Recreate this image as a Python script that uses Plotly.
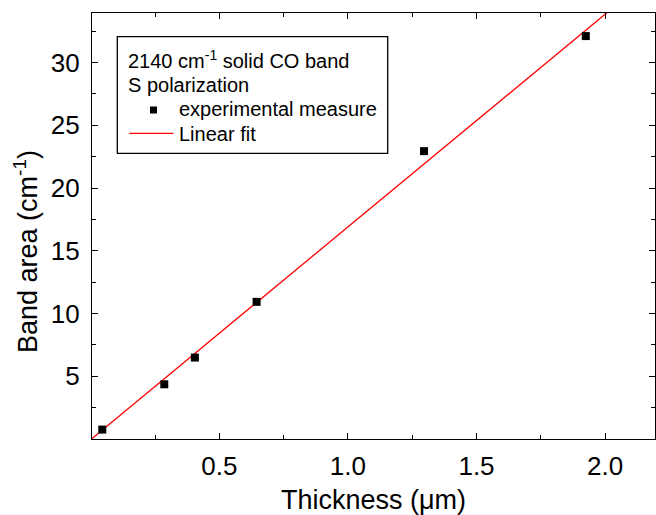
import plotly.graph_objects as go

# data
thickness_um = [0.045, 0.286, 0.405, 0.645, 1.296, 1.925]
band_area = [0.75, 4.36, 6.49, 10.93, 22.94, 32.11]
fit_x = [0.0, 2.2]
fit_y = [-0.05, 37.24]
x_tick_vals = [0.5, 1.0, 1.5, 2.0]
x_tick_text = ["0.5", "1.0", "1.5", "2.0"]
y_tick_vals = [5, 10, 15, 20, 25, 30]

W, H = 656, 515
L, R, T, B = 92, 1, 13, 76
PW, PH = W - L - R, H - T - B
FONT = "Liberation Sans, Arial, sans-serif"

def px(x):
    return (x - L) / PW

def py(y):
    return (H - B - y) / PH

fig = go.Figure()
fig.add_trace(go.Scatter(x=fit_x, y=fit_y, mode="lines",
                         line=dict(color="#ff0000", width=1.3), showlegend=False))
fig.add_trace(go.Scatter(x=thickness_um, y=band_area, mode="markers",
                         marker=dict(symbol="square", size=8, color="black"),
                         showlegend=False))

axis_common = dict(showline=True, linecolor="black", linewidth=1.3, mirror="ticks",
                   ticks="inside", ticklen=6, tickwidth=1, tickcolor="black",
                   showgrid=False, zeroline=False,
                   tickfont=dict(family=FONT, size=26, color="black"))

fig.update_xaxes(range=[0.005, 2.194], tickvals=x_tick_vals, ticktext=x_tick_text,
                 minor=dict(ticks="inside", ticklen=4, dtick=0.25, tick0=0, tickcolor="black"),
                 title=dict(text="Thickness (\u03bcm)", font=dict(family=FONT, size=27, color="black"),
                            standoff=14),
                 ticklabelstandoff=4,
                 **axis_common)
fig.update_yaxes(range=[0.0, 33.95], tickvals=y_tick_vals,
                 minor=dict(ticks="inside", ticklen=4, dtick=2.5, tick0=0, tickcolor="black"),
                 ticklabelstandoff=6,
                 **axis_common)

shapes = [
    dict(type="rect", xref="paper", yref="paper", x0=px(117.3), x1=px(387.7),
         y0=py(153.3), y1=py(36.7), line=dict(color="black", width=1.3), fillcolor="white", layer="above"),
    dict(type="line", xref="paper", yref="paper", x0=px(129.3), x1=px(173.3),
         y0=py(133.3), y1=py(133.3), line=dict(color="#ff0000", width=1.3), layer="above"),
    dict(type="rect", xref="paper", yref="paper", x0=px(150), x1=px(157),
         y0=py(113.5), y1=py(106.5), line=dict(width=0), fillcolor="black", layer="above"),
]

lf = dict(family=FONT, size=20, color="black")
annotations = [
    dict(text="2140 cm<sup>-1</sup> solid CO band", x=px(126), y=py(59), xref="paper", yref="paper",
         xanchor="left", yanchor="middle", showarrow=False, font=lf),
    dict(text="S polarization", x=px(126), y=py(85), xref="paper", yref="paper",
         xanchor="left", yanchor="middle", showarrow=False, font=lf),
    dict(text="experimental measure", x=px(177), y=py(109), xref="paper", yref="paper",
         xanchor="left", yanchor="middle", showarrow=False, font=lf),
    dict(text="Linear fit", x=px(177), y=py(134), xref="paper", yref="paper",
         xanchor="left", yanchor="middle", showarrow=False, font=lf),
    dict(text="Band area (cm<sup>-1</sup>)", x=px(26), y=py(252), xref="paper", yref="paper",
         xanchor="center", yanchor="middle", showarrow=False, textangle=-90,
         font=dict(family=FONT, size=27, color="black")),
]

fig.update_layout(width=W, height=H, margin=dict(l=L, r=R, t=T, b=B, autoexpand=False),
                  plot_bgcolor="white", paper_bgcolor="white",
                  shapes=shapes, annotations=annotations, showlegend=False)

fig.write_html("out.html", config={"displayModeBar": False},
               post_script="document.body.style.margin='0';document.body.style.overflow='hidden';")
